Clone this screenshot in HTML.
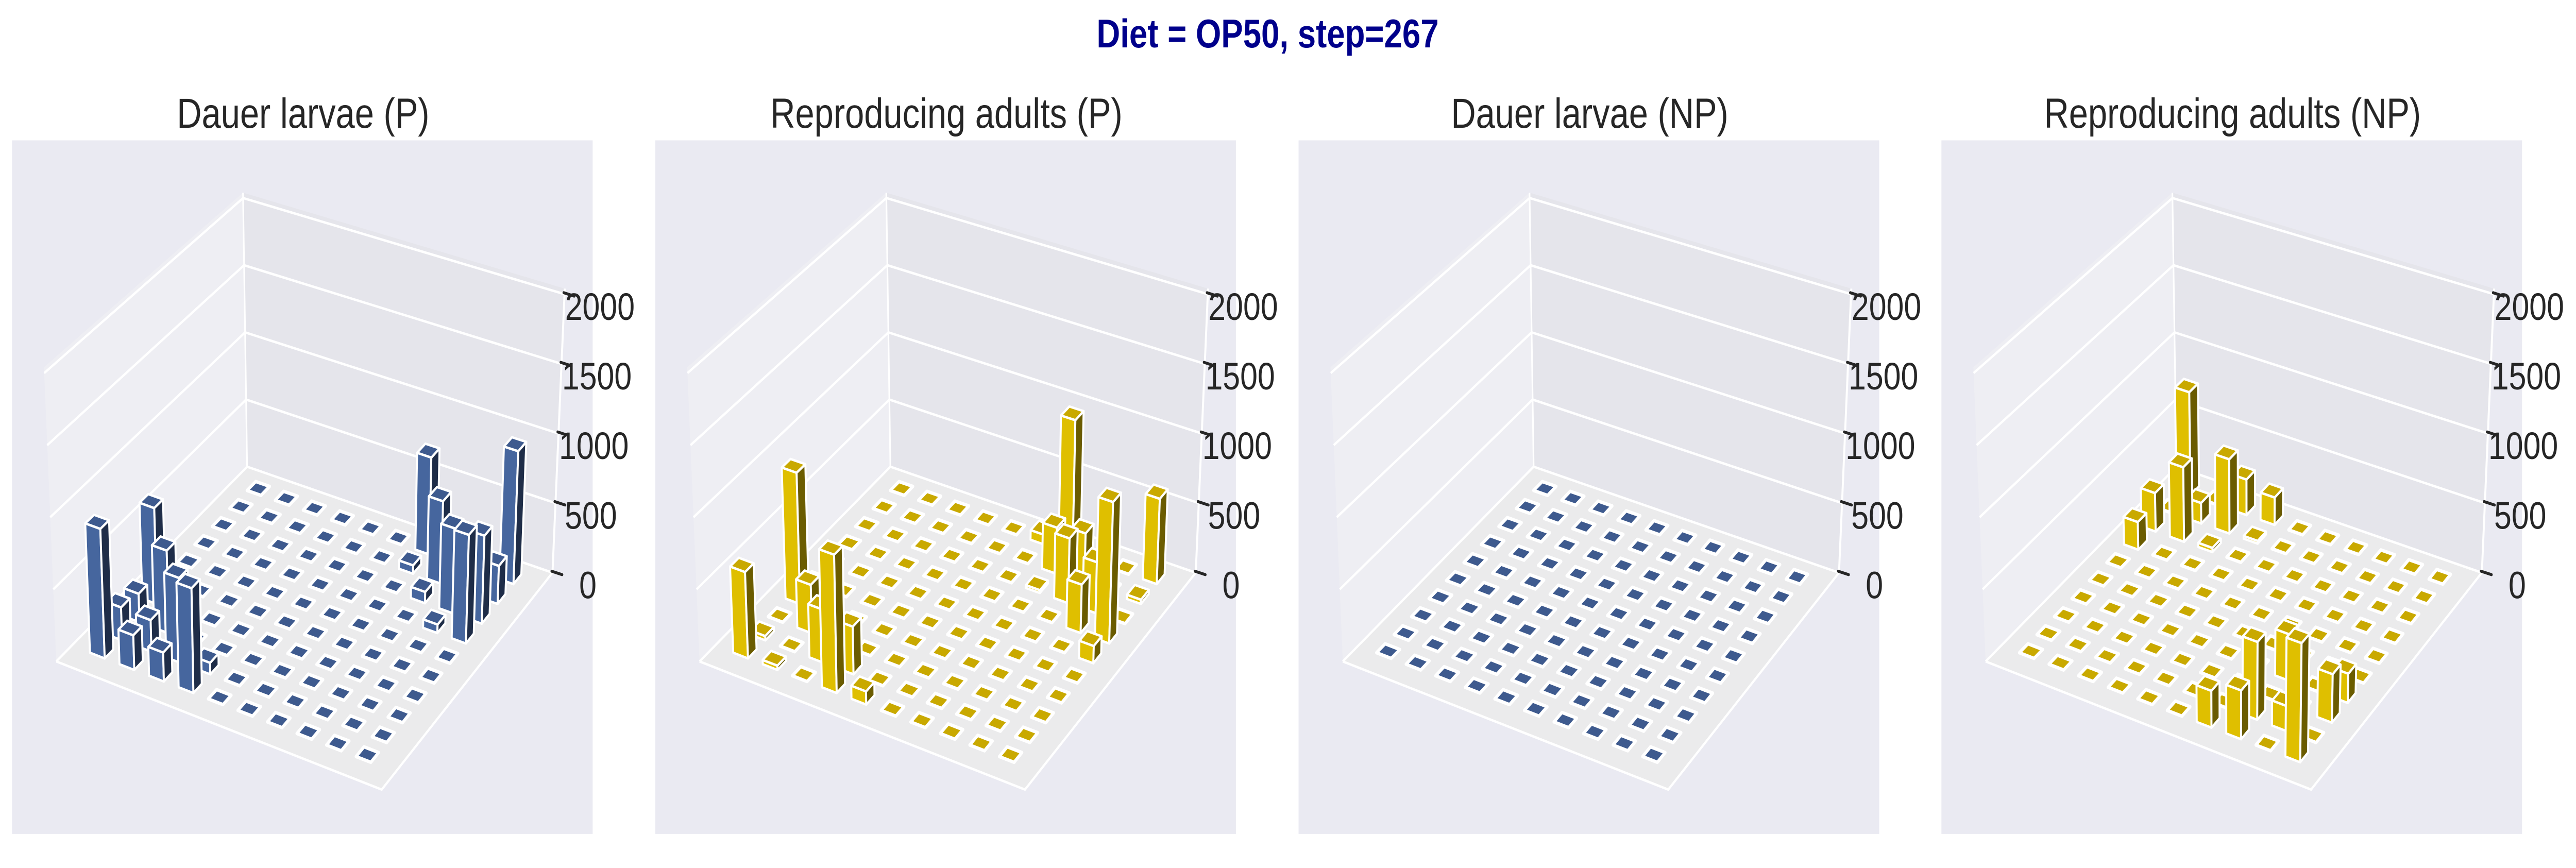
<!DOCTYPE html>
<html><head><meta charset="utf-8"><style>
html,body{margin:0;padding:0;background:#fff;width:100%;height:100%;overflow:hidden;}
svg{display:block;width:100vw;height:100vh;}
text{font-family:"Liberation Sans",Arial,sans-serif;}
</style></head><body>
<svg id="fig" viewBox="0 0 6135 1685" preserveAspectRatio="none" xmlns="http://www.w3.org/2000/svg">
<rect x="0" y="0" width="6135" height="1685" fill="#ffffff"/>
<text x="3019" y="92" text-anchor="middle" font-size="78" font-weight="bold" fill="#00008b">Diet = OP50, step=267</text>
</svg>
<script>
// ---- data ----
const gridX = [0,1,2,3,4,5,6,7,8,9];
const gridY = [0,1,2,3,4,5,6,7,8,9];
const zTicks = [0,500,1000,1500,2000];
const zTickLabels = ["0","500","1000","1500","2000"];
const panelTitles = ["Dauer larvae (P)","Reproducing adults (P)","Dauer larvae (NP)","Reproducing adults (NP)"];
// heights: rows = y index j (0..9), columns = x index i (0..9)
const dauerP = [
 [900,240,200,720,0,0,0,0,0,0],
 [230,220,590,80,0,0,0,0,0,0],
 [200,580,0,0,0,0,0,0,0,0],
 [680,0,0,0,0,0,0,0,0,0],
 [0,0,0,0,0,0,0,0,0,0],
 [0,0,0,0,0,0,0,0,0,0],
 [0,0,0,0,0,0,0,0,60,760],
 [0,0,0,0,0,0,0,80,600,620],
 [0,0,0,0,0,0,60,590,0,270],
 [0,0,0,0,0,0,700,0,0,950]
];
const reproP = [
 [600,30,0,950,90,0,0,0,0,0],
 [30,0,370,330,0,0,0,0,0,0],
 [0,340,0,0,0,0,0,0,0,0],
 [930,0,0,0,0,0,0,0,0,0],
 [0,0,0,0,0,0,0,0,0,0],
 [0,0,0,0,0,0,0,0,0,120],
 [0,0,0,0,0,0,0,0,340,990],
 [0,0,0,0,0,0,20,460,360,0],
 [0,0,0,0,0,0,330,360,0,30],
 [0,0,0,0,0,70,970,0,0,610]
];
const dauerNP = [
 [0,0,0,0,0,0,0,0,0,0],[0,0,0,0,0,0,0,0,0,0],[0,0,0,0,0,0,0,0,0,0],[0,0,0,0,0,0,0,0,0,0],[0,0,0,0,0,0,0,0,0,0],
 [0,0,0,0,0,0,0,0,0,0],[0,0,0,0,0,0,0,0,0,0],[0,0,0,0,0,0,0,0,0,0],[0,0,0,0,0,0,0,0,0,0],[0,0,0,0,0,0,0,0,0,0]
];
const reproNP = [
 [0,0,0,0,0,0,250,330,0,800],
 [0,0,0,0,0,0,0,530,170,0],
 [0,0,0,0,0,0,0,0,0,330],
 [0,0,0,0,0,0,0,320,0,200],
 [0,0,0,0,0,0,0,0,0,0],
 [0,0,0,0,0,0,0,0,0,0],
 [200,0,0,0,0,0,0,0,0,0],
 [280,540,30,0,0,0,0,0,0,0],
 [0,150,540,20,0,0,0,0,0,0],
 [760,0,260,200,0,0,0,0,0,0]
];
const panelData = [dauerP, reproP, dauerNP, reproNP];

// ---- styling / geometry ----
const NS = "http://www.w3.org/2000/svg";
const panelOffsets = [0,1532,3064,4595];
const blue = {top:"#3e5a8e", front:"#46669e", side:"#1f2d48"};
const yellow = {top:"#c9a900", front:"#dfbf00", side:"#6b5c00"};
const palettes = [blue, yellow, blue, yellow];
const CL=[140,1185], CF=[950,1445], CB=[615,790], CR=[1375,1005];
const ZL=[-30,-585], ZF=[10,-610], ZB=[-10,-545], ZR=[30,-565];
function bil(a,b,c,d,s,t){
  return [a[0]*(1-s)*(1-t)+b[0]*s*(1-t)+c[0]*(1-s)*t+d[0]*s*t,
          a[1]*(1-s)*(1-t)+b[1]*s*(1-t)+c[1]*(1-s)*t+d[1]*s*t];
}
function proj(s,t,z){
  const f=bil(CL,CF,CB,CR,s,t), zv=bil(ZL,ZF,ZB,ZR,s,t);
  return [f[0]+zv[0]*z/2000, f[1]+zv[1]*z/2000];
}
function sOf(i){ return 0.079+0.0913*i; }
function tOf(j){ return 0.104+0.092*j; }
const HW = 0.0228;
function pts(arr){ return arr.map(p=>p[0].toFixed(1)+","+p[1].toFixed(1)).join(" "); }
function mk(tag, attrs, parent){
  const e=document.createElementNS(NS,tag);
  for(const k in attrs) e.setAttribute(k, attrs[k]);
  parent.appendChild(e); return e;
}
const fig = document.getElementById("fig");
panelData.forEach((data,p)=>{
  const g = mk("g",{transform:`translate(${panelOffsets[p]},150) scale(${1/1.045})`},fig);
  
  
  const bg = mk("rect",{x:30,y:128,width:1445,height:1407,fill:"#eaeaf2"},g);
  
  
  const zTop=2040;
  const lw = mk("polygon",{points:pts([proj(0,0,0),proj(0,1,0),proj(0,1,zTop),proj(0,0,zTop)]),fill:"#eeeef3"},g);
  
  
  const bw = mk("polygon",{points:pts([proj(0,1,0),proj(1,1,0),proj(1,1,zTop),proj(0,1,zTop)]),fill:"#e5e5eb"},g);
  
  
  const fl = mk("polygon",{points:pts([proj(0,0,0),proj(1,0,0),proj(1,1,0),proj(0,1,0)]),fill:"#ebebec"},g);
  
  
  zTicks.forEach((z,k)=>{
    const gl = mk("polyline",{points:pts([proj(0,0,z),proj(0,1,z),proj(1,1,z)]),fill:"none",stroke:"#ffffff","stroke-width":5},g);
    
    
  });
  const ed = mk("polyline",{points:pts([proj(0,1,0),proj(0,1,zTop)]),fill:"none",stroke:"#ffffff","stroke-width":4},g);
  
  
  const za = mk("polyline",{points:pts([proj(1,1,0),proj(1,1,zTop)]),fill:"none",stroke:"#ffffff","stroke-width":5},g);
  
  
  const fe = mk("polyline",{points:pts([proj(0,0,0),proj(1,0,0),proj(1,1,0)]),fill:"none",stroke:"#ffffff","stroke-width":5},g);
  
  
  const cells=[];
  gridY.forEach(j=>gridX.forEach(i=>cells.push([i,j])));
  cells.sort((a,b)=>(b[1]-b[0])-(a[1]-a[0]) || (b[1]-a[1]));
  const pal = palettes[p];
  cells.forEach(([i,j])=>{
    const h = data[j][i];
    const s0=sOf(i)-HW, s1=sOf(i)+HW, t0=tOf(j)-HW, t1=tOf(j)+HW;
    const bar = mk("g",{},g);
    
    
    const st = {stroke:"#ffffff","stroke-width":5,"stroke-linejoin":"round"};
    if(h>0){
      mk("polygon",Object.assign({points:pts([proj(s0,t0,0),proj(s1,t0,0),proj(s1,t0,h),proj(s0,t0,h)]),fill:pal.front},st),bar);
      mk("polygon",Object.assign({points:pts([proj(s1,t0,0),proj(s1,t1,0),proj(s1,t1,h),proj(s1,t0,h)]),fill:pal.side},st),bar);
    }
    mk("polygon",Object.assign({points:pts([proj(s0,t0,h),proj(s1,t0,h),proj(s1,t1,h),proj(s0,t1,h)]),fill:pal.top},st,{"stroke-width":h>0?5:7}),bar);
  });
  zTicks.forEach((z,k)=>{
    const P=proj(1,1,z);
    const tk = mk("line",{x1:P[0]-2,y1:P[1]-3,x2:P[0]+24,y2:P[1]+4,stroke:"#262626","stroke-width":6,"stroke-linecap":"round"},g);
    
    
    const tx = mk("text",{x:P[0]+88,y:P[1]+52,"text-anchor":"middle","font-size":78,fill:"#262626"},g);
    tx.textContent = zTickLabels[k];
    
    
  });
  const title = mk("text",{x:panelOffsets[p]+722,y:248,"text-anchor":"middle","font-size":82,fill:"#262626"},fig);
  title.textContent = panelTitles[p];
  
  
});
</script>
</body></html>
